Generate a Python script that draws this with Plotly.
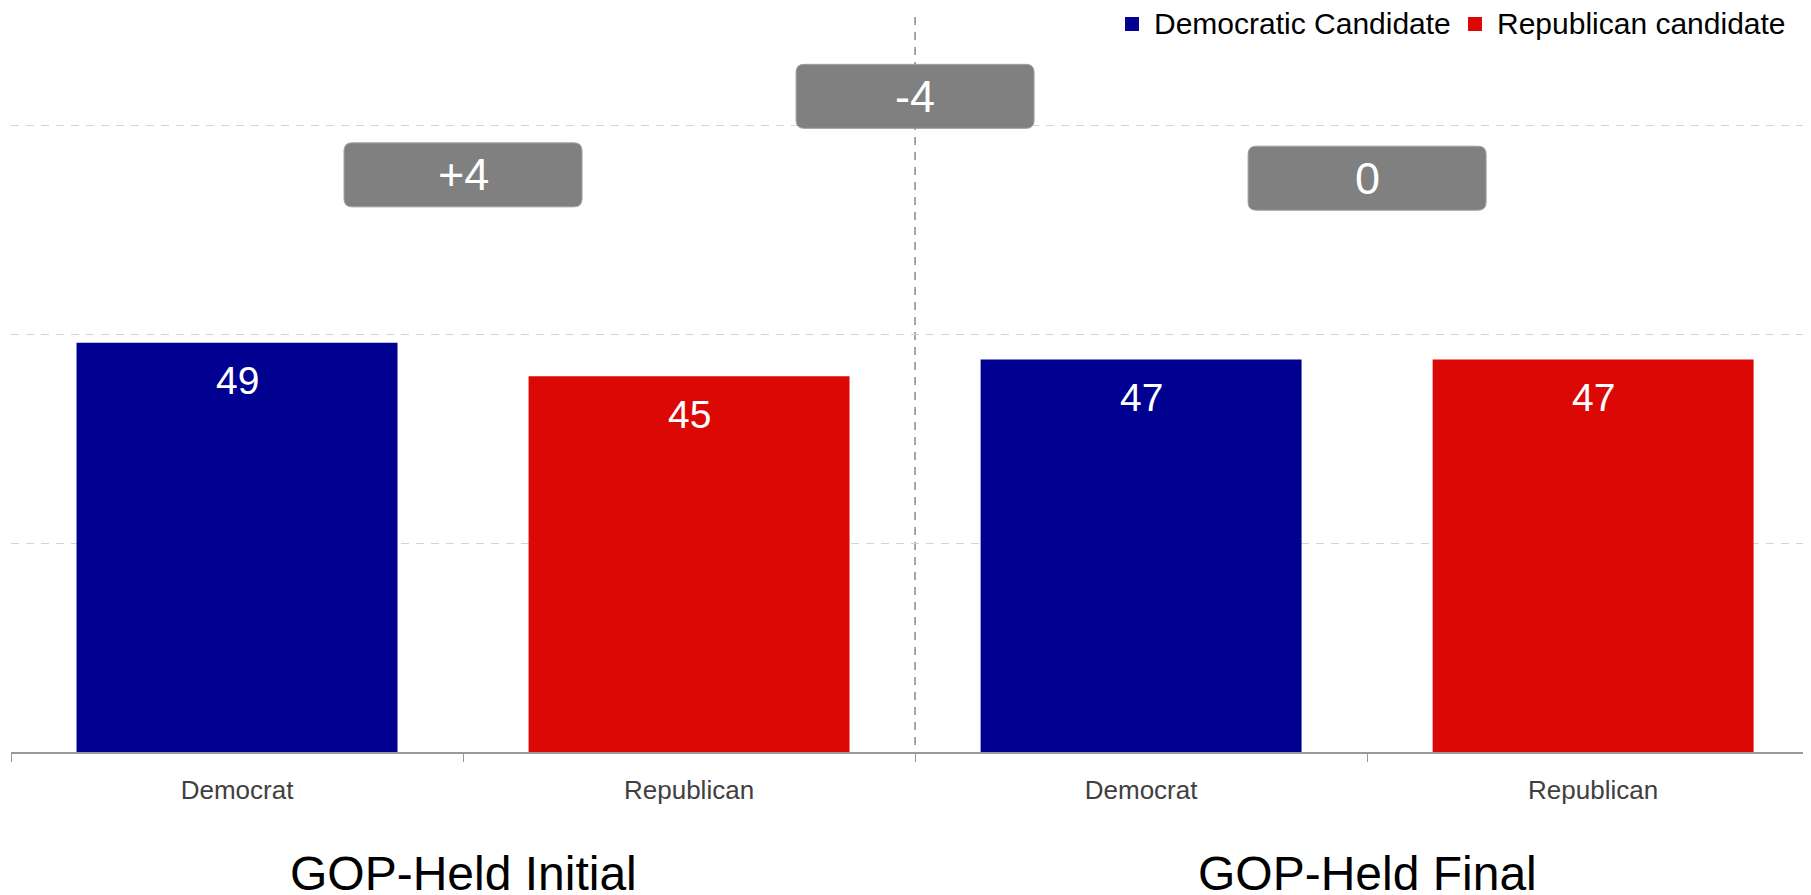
import plotly.graph_objects as go

# datos
grupos = ["GOP-Held Initial", "GOP-Held Final"]
partidos = ["Democrat", "Republican"]
votos_dem = [49, 47]
votos_rep = [45, 47]
nombres_series = ["Democratic Candidate", "Republican candidate"]

# estilos
AZUL = "#000091"
ROJO = "#dc0805"
GRIS_CAJA = "#808080"
FUENTE = "Liberation Sans, Arial, sans-serif"
ANCHO_BARRA = 0.71
Y_CAJAS = [69.1, 78.5, 68.7]  # altura de las cajas (+4, -4, 0)

# area de dibujo en pixeles
ANCHO_PLOT = 1800
ALTO_PLOT = 735

# posiciones: cada grupo ocupa dos categorias (Dem, Rep)
x_dem = [2 * i for i in range(len(grupos))]
x_rep = [2 * i + 1 for i in range(len(grupos))]

fig = go.Figure()
fig.add_trace(go.Bar(x=x_dem, y=votos_dem, name=nombres_series[0], marker_color=AZUL,
                     width=ANCHO_BARRA, marker_line_width=0))
fig.add_trace(go.Bar(x=x_rep, y=votos_rep, name=nombres_series[1], marker_color=ROJO,
                     width=ANCHO_BARRA, marker_line_width=0))

anotaciones = []
# etiquetas de valor dentro de las barras
for xs, vals in [(x_dem, votos_dem), (x_rep, votos_rep)]:
    for x, v in zip(xs, vals):
        anotaciones.append(dict(x=x, y=v, text=str(v), showarrow=False, yanchor="middle",
                                yshift=-38, font=dict(color="white", size=39, family=FUENTE)))

# diferencias
margenes = [d - r for d, r in zip(votos_dem, votos_rep)]
cambio = margenes[1] - margenes[0]
def fmt(n):
    return "0" if n == 0 else f"{n:+d}"

cajas = [(0.5, Y_CAJAS[0], fmt(margenes[0])),
         (1.5, Y_CAJAS[1], fmt(cambio)),
         (2.5, Y_CAJAS[2], fmt(margenes[1]))]

px_x = ANCHO_PLOT / 3.982  # px por unidad x
px_y = ALTO_PLOT / 88      # px por unidad y
w = 238 / px_x / 2
h = 64 / px_y / 2
rx = 8 / px_x
ry = 8 / px_y

shapes = []
for cx, cy, txt in cajas:
    x0, x1, y0, y1 = cx - w, cx + w, cy - h, cy + h
    path = (f"M {x0+rx},{y1} L {x1-rx},{y1} Q {x1},{y1} {x1},{y1-ry} "
            f"L {x1},{y0+ry} Q {x1},{y0} {x1-rx},{y0} L {x0+rx},{y0} "
            f"Q {x0},{y0} {x0},{y0+ry} L {x0},{y1-ry} Q {x0},{y1} {x0+rx},{y1} Z")
    shapes.append(dict(type="path", path=path, xref="x", yref="y", fillcolor=GRIS_CAJA,
                       line=dict(color="#a0a0a0", width=1), layer="above"))
    anotaciones.append(dict(x=cx, y=cy, text=txt, showarrow=False, yanchor="middle",
                            font=dict(color="white", size=45, family=FUENTE)))

# linea vertical separadora (de arriba hacia abajo)
shapes.append(dict(type="line", xref="x", yref="paper", x0=1.5, x1=1.5, y0=1, y1=0,
                   line=dict(color="#8a8a8a", width=1.5, dash="8px,7px"), layer="below"))

# titulos de grupo
for i, g in enumerate(grupos):
    anotaciones.append(dict(x=2 * i + 0.5, y=-0.165, xref="x", yref="paper", text=g,
                            showarrow=False, yanchor="middle",
                            font=dict(color="black", size=48, family=FUENTE)))

# leyenda manual (cuadrado + texto) arriba a la derecha, sobre el area del grafico
leyenda_x = [1114, 1457]  # borde izquierdo del cuadrado, px desde el borde del plot
lado = 14
y_ley = 1 - 7 / ALTO_PLOT
for x_px, nombre, color in zip(leyenda_x, nombres_series, [AZUL, ROJO]):
    shapes.append(dict(type="rect", xref="paper", yref="paper",
                       x0=x_px / ANCHO_PLOT, x1=(x_px + lado) / ANCHO_PLOT,
                       y0=y_ley - lado / 2 / ALTO_PLOT, y1=y_ley + lado / 2 / ALTO_PLOT,
                       fillcolor=color, line=dict(width=0), layer="above"))
    anotaciones.append(dict(x=(x_px + lado + 13) / ANCHO_PLOT, y=y_ley, xref="paper",
                            yref="paper", text=nombre, showarrow=False, xanchor="left",
                            yanchor="middle", font=dict(color="black", size=30, family=FUENTE)))

# la pagina tiene 8px de margen en el body
fig.update_layout(
    width=1803, height=887,
    margin=dict(l=3, r=0, t=9, b=143),
    plot_bgcolor="white", paper_bgcolor="white",
    barmode="overlay",
    font=dict(family=FUENTE),
    showlegend=False,
    annotations=anotaciones,
    shapes=shapes,
)

fig.update_xaxes(
    range=[-0.5, 3.482],
    tickmode="array",
    tickvals=x_dem + x_rep,
    ticktext=[partidos[0]] * len(x_dem) + [partidos[1]] * len(x_rep),
    ticks="", ticklabelstandoff=14,
    tickfont=dict(size=26, color="#404040"),
    showline=True, linecolor="#999999", linewidth=2,
    showgrid=False, zeroline=False,
    minor=dict(tickmode="array", tickvals=[-0.5, 0.5, 1.5, 2.5], ticks="outside",
               ticklen=8, tickcolor="#999999", tickwidth=1, showgrid=False),
)
fig.update_yaxes(
    range=[0, 88],
    tickvals=[25, 50, 75],
    showticklabels=False,
    showgrid=True, gridcolor="#d4d4d4", gridwidth=1, griddash="8px,7px",
    zeroline=False, showline=False,
)

fig.write_html("out.html")
